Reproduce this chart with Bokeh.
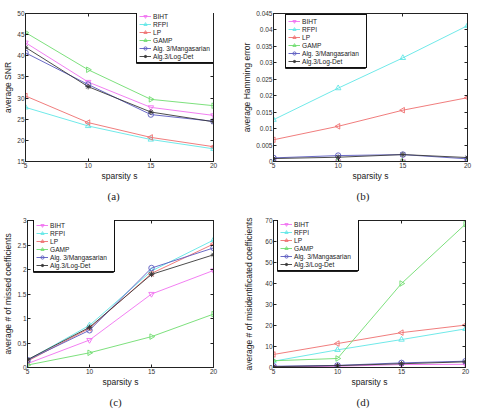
import math
from bokeh.plotting import figure
from bokeh.models import (Range1d, LinearAxis, FixedTicker, Title, Legend, LegendItem,
                          PolyAnnotation)
from bokeh.layouts import row, column
from bokeh.embed import file_html
from bokeh.resources import INLINE

sparsity = [5, 10, 15, 20]
methods = ["BIHT", "RFPI", "LP", "GAMP", "Alg. 3/Mangasarian", "Alg.3/Log-Det"]

# (a) average SNR
snr_biht = [43.1, 33.8, 27.8, 25.9]
snr_rfpi = [27.8, 23.4, 20.2, 18.0]
snr_lp = [30.5, 24.2, 20.7, 18.5]
snr_gamp = [45.5, 36.7, 29.7, 28.2]
snr_mang = [40.7, 33.2, 26.1, 24.5]
snr_logdet = [42.0, 32.7, 26.7, 24.4]

# (b) average Hamming error
ham_biht = [0.0, 0.0, 0.0, 0.0]
ham_rfpi = [0.0127, 0.0223, 0.0315, 0.0413]
ham_lp = [0.0066, 0.0107, 0.0156, 0.0194]
ham_gamp = [0.0, 0.0, 0.0, 0.0]
ham_mang = [0.0011, 0.0018, 0.0021, 0.0008]
ham_logdet = [0.0009, 0.0013, 0.0021, 0.0012]

# (c) average # of missed coefficients
miss_biht = [0.08, 0.56, 1.50, 1.98]
miss_rfpi = [0.15, 0.86, 1.97, 2.60]
miss_lp = [0.13, 0.80, 1.92, 2.52]
miss_gamp = [0.05, 0.30, 0.63, 1.09]
miss_mang = [0.15, 0.76, 2.03, 2.44]
miss_logdet = [0.16, 0.82, 1.90, 2.30]

# (d) average # of misidentificated coefficients
mis_biht = [0.3, 0.6, 1.4, 1.5]
mis_rfpi = [3.0, 8.4, 13.3, 18.4]
mis_lp = [6.2, 11.4, 16.6, 20.2]
mis_gamp = [3.2, 4.3, 40.0, 68.3]
mis_mang = [0.6, 1.0, 2.2, 3.0]
mis_logdet = [0.4, 0.9, 1.8, 2.7]

x_ticks = [5, 10, 15, 20]
snr_ticks = [15, 20, 25, 30, 35, 40, 45, 50]
ham_ticks = [0, 0.005, 0.01, 0.015, 0.02, 0.025, 0.03, 0.035, 0.04, 0.045]
miss_ticks = [0, 0.5, 1, 1.5, 2, 2.5, 3]
mis_ticks = [0, 10, 20, 30, 40, 50, 60, 70]

colors = ["#f070f0", "#60e6e6", "#ee6e6e", "#6edc6e", "#5a5ac0", "#383838"]
markers = ["inverted_triangle", "triangle", "triangle", "triangle", "circle", "asterisk"]
angles = [0, 0, math.pi / 2, -math.pi / 2, 0, 0]

TICK_FONT = "6.5px"
FONT = "Liberation Sans"

# legend layout: row height, padding, glyph width, standoff, label width
LEG_ROW = 8
LEG_PAD = 2
LEG_GLYPH = 12
LEG_STANDOFF = 2
LEG_LABEL_W = 62
LEG_W = 2 * LEG_PAD + LEG_GLYPH + LEG_STANDOFF + LEG_LABEL_W
LEG_H = 2 * LEG_PAD + LEG_ROW * len(methods)


def fmt(t):
    return ("%g" % t)


def style_axis(ax, ticks, show_labels=True, label_standoff=0):
    ax.ticker = FixedTicker(ticks=ticks)
    ax.major_tick_in = 3
    ax.major_tick_out = 0
    ax.minor_tick_line_color = None
    ax.axis_line_color = "#222222"
    ax.major_tick_line_color = "#222222"
    ax.major_label_text_font = FONT
    ax.major_label_overrides = {t: fmt(t) for t in ticks}
    if show_labels:
        ax.major_label_text_font_size = TICK_FONT
        ax.major_label_text_color = "#333333"
        ax.major_label_standoff = 1
        ax.axis_label_text_font = FONT
        ax.axis_label_text_font_size = "8.5px"
        ax.axis_label_text_font_style = "normal"
        ax.axis_label_text_color = "#222222"
        ax.axis_label_standoff = label_standoff
    else:
        ax.major_label_text_font_size = "1px"
        ax.major_label_text_color = None
        ax.major_label_standoff = 0


def panel(series, yr, yticks, ylabel, caption, width, height, mbl, mbr, mbt, mbb,
          loc, cap_off, ylab_standoff=1):
    p = figure(width=width, height=height, x_range=Range1d(5, 20), y_range=Range1d(*yr),
               output_backend="svg", toolbar_location=None,
               min_border_left=mbl, min_border_right=mbr, min_border_top=mbt,
               min_border_bottom=mbb)
    p.xgrid.visible = False
    p.ygrid.visible = False
    p.outline_line_color = "#222222"
    p.background_fill_color = "white"
    p.border_fill_color = "white"
    style_axis(p.xaxis[0], x_ticks, label_standoff=0)
    style_axis(p.yaxis[0], yticks, label_standoff=ylab_standoff)
    p.xaxis[0].axis_label = "sparsity s"
    p.yaxis[0].axis_label = ylabel
    ra = LinearAxis()
    style_axis(ra, yticks, show_labels=False)
    p.add_layout(ra, "right")
    ta = LinearAxis()
    style_axis(ta, x_ticks, show_labels=False)
    p.add_layout(ta, "above")

    items = []
    for name, ys, c, m, a in zip(methods, series, colors, markers, angles):
        l = p.line(sparsity, ys, line_color=c, line_width=0.9)
        s = p.scatter(sparsity, ys, marker=m, angle=a, size=5.5, line_color=c,
                      fill_color=None, line_width=0.9)
        items.append(LegendItem(label=name, renderers=[l, s]))
    leg = Legend(items=items, location=loc, margin=0,
                 label_text_font=FONT, label_text_font_size="6.6px",
                 label_text_color="#222222", label_height=LEG_ROW, glyph_height=LEG_ROW,
                 glyph_width=LEG_GLYPH, label_width=LEG_LABEL_W,
                 label_standoff=LEG_STANDOFF, spacing=0,
                 padding=LEG_PAD, border_line_color="#111111", border_line_width=1,
                 border_line_alpha=1.0,
                 background_fill_color="white", background_fill_alpha=1)
    p.add_layout(leg, "center")
    vx, vy = loc
    frame_box = PolyAnnotation(xs=[vx, vx + LEG_W, vx + LEG_W, vx],
                               ys=[vy, vy, vy + LEG_H, vy + LEG_H],
                               xs_units="screen", ys_units="screen",
                               fill_color=None, fill_alpha=0,
                               line_color="#222222", line_alpha=1.0, line_width=1,
                               level="overlay")
    p.add_layout(frame_box)
    cap = Title(text=caption, align="left", text_font="Liberation Serif",
                text_font_size="11px", text_font_style="normal",
                text_color="#222222", standoff=8, offset=cap_off)
    p.add_layout(cap, "below")
    return p


pa = panel([snr_biht, snr_rfpi, snr_lp, snr_gamp, snr_mang, snr_logdet], (15, 50),
           snr_ticks, "average SNR", "(a)", 238, 205, 22, 25, 13, 39,
           (111, 98), 82)
pb = panel([ham_biht, ham_rfpi, ham_lp, ham_gamp, ham_mang, ham_logdet], (0, 0.045),
           ham_ticks, "average Hamming error", "(b)", 240, 205, 35, 11, 13, 41,
           (12, 93), 83)
pc = panel([miss_biht, miss_rfpi, miss_lp, miss_gamp, miss_mang, miss_logdet], (0, 3),
           miss_ticks, "average # of missed coefficients", "(c)", 238, 206, 22, 25, 15, 39,
           (6, 95), 82)
pd = panel([mis_biht, mis_rfpi, mis_lp, mis_gamp, mis_mang, mis_logdet], (0, 70),
           mis_ticks, "average # of misidentificated coefficients", "(d)", 240, 206, 35, 13, 15, 39,
           (4, 96), 83, ylab_standoff=8)

layout = column(row(pa, pb), row(pc, pd))
open("out.html", "w").write(file_html(layout, INLINE))
